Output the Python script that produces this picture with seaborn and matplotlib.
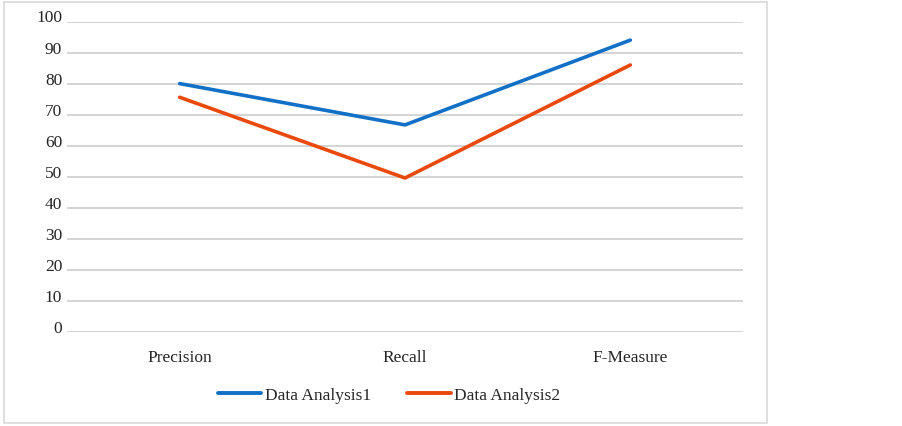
import matplotlib
matplotlib.use("Agg")
import matplotlib.pyplot as plt
import pandas as pd
import seaborn as sns
from matplotlib.patches import Rectangle

categories = ["Precision", "Recall", "F-Measure"]
analysis1 = [80, 66.7, 94]
analysis2 = [75.6, 49.6, 86]
series_names = ["Data Analysis1", "Data Analysis2"]
colors = ["#1270C6", "#E9490C"]

df = pd.DataFrame({
    "metric": categories * 2,
    "value": analysis1 + analysis2,
    "series": [series_names[0]] * 3 + [series_names[1]] * 3,
})
df["pos"] = df["metric"].map({c: i for i, c in enumerate(categories)})

sns.set_style("white")
plt.rcParams["font.family"] = ["Liberation Serif", "DejaVu Serif"]

fig = plt.figure(figsize=(9.03, 4.27), dpi=100)
ax = fig.add_axes([67 / 903, 1 - 333 / 427, 676 / 903, 310.5 / 427])

# light frame around the chart area
fig.patches.append(Rectangle((4 / 903, 3 / 427), 763 / 903, 421 / 427,
                             transform=fig.transFigure, fill=False,
                             edgecolor="#D9D9D9", linewidth=1.2))

sns.lineplot(data=df, x="pos", y="value", hue="series", palette=colors,
             linewidth=2.6, ax=ax, legend=False, sort=False)
for line in ax.lines:
    line.set_solid_capstyle("round")

ax.set_xlim(-0.5, 2.5)
ax.set_ylim(0, 100)
ax.set_yticks(range(0, 101, 10))
ax.set_xticks(range(len(categories)))
ax.set_xticklabels(categories)
ax.set_xlabel("")
ax.set_ylabel("")
ax.grid(axis="y", color="#D4D4D4", linewidth=1.4)
ax.set_axisbelow(True)
for s in ax.spines.values():
    s.set_visible(False)
ax.tick_params(axis="both", length=0, labelsize=12.5, colors="#262626")
ax.tick_params(axis="x", pad=12)
ax.tick_params(axis="y", pad=3.5)
for lbl in ax.get_yticklabels():
    lbl.set_verticalalignment("baseline")

handles = [plt.Line2D([0], [0], color=c, linewidth=2.8, solid_capstyle="round") for c in colors]
fig.legend(handles, series_names, loc="center", ncol=2,
           bbox_to_anchor=(389 / 903, 1 - 396 / 427), frameon=False,
           fontsize=12.5, handlelength=2.5, handletextpad=0.2, columnspacing=2.1)

fig.savefig("out.png", dpi=100)
